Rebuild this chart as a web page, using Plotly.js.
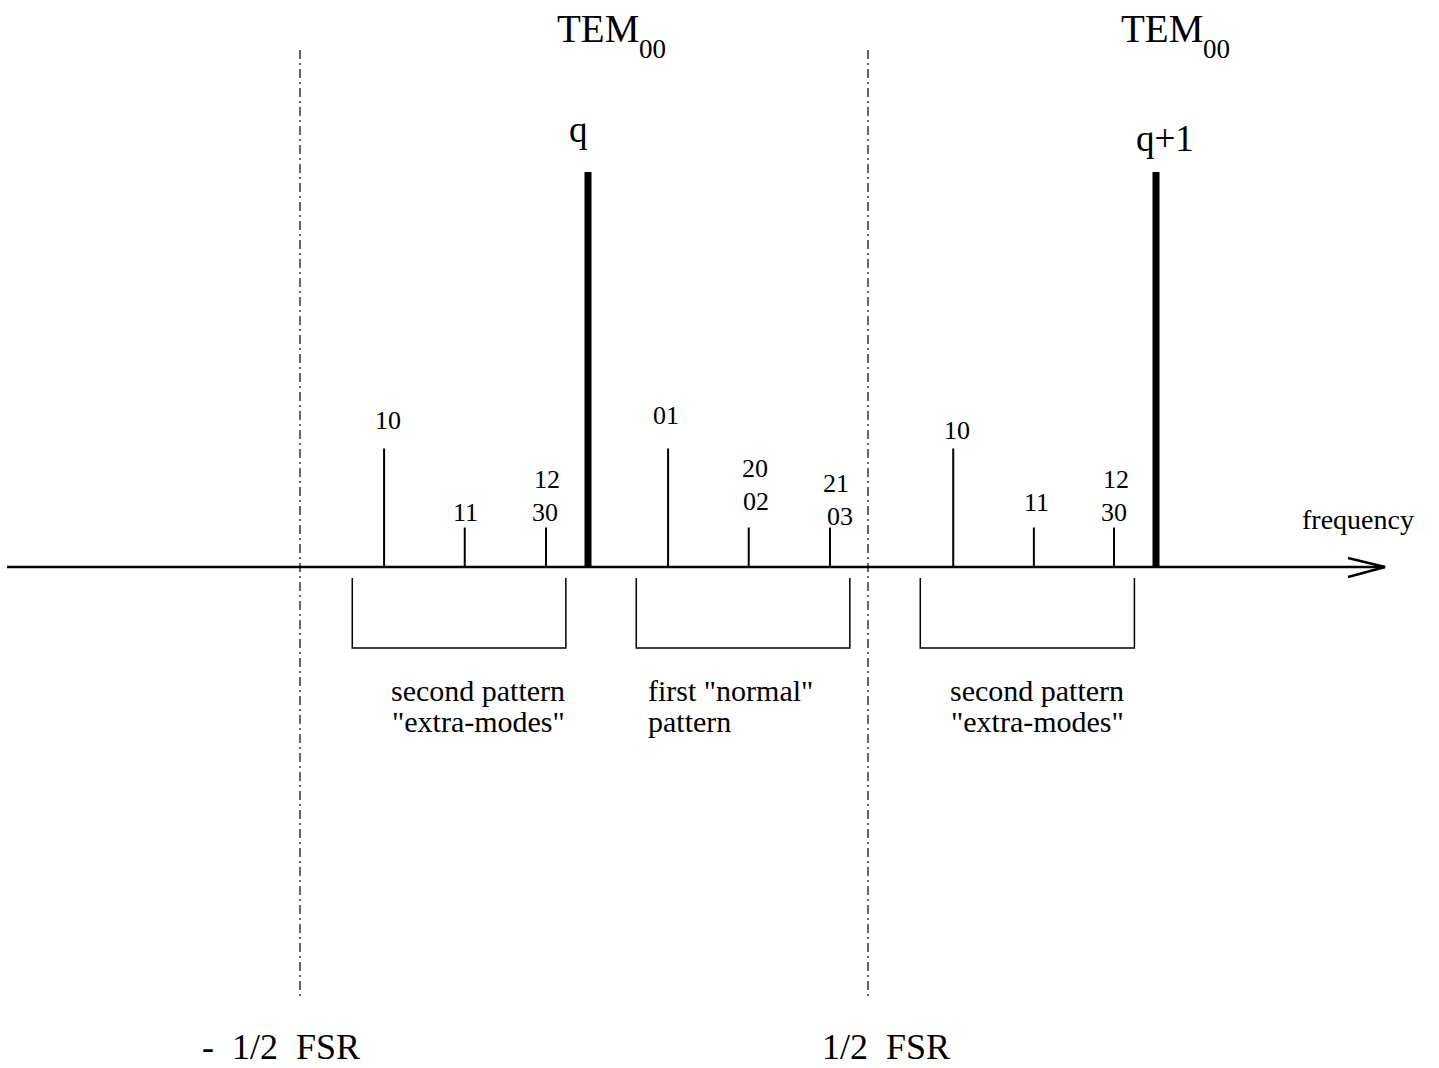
<!DOCTYPE html>
<html>
<head>
<meta charset="utf-8">
<script src="https://cdn.plot.ly/plotly-3.0.1.min.js"></script>
<style>html,body{margin:0;padding:0;background:#fff}#chart{width:1439px;height:1068px}</style>
</head>
<body>
<div id="chart"></div>
<script>
// ---- data (frequency in units of FSR relative to TEM00 q; amplitude relative to TEM00) ----
const modeLabels = ['10', '11', '12<br>30', 'q', '01', '20<br>02', '21<br>03', '10', '11', '12<br>30', 'q+1'];
const modeFreq   = [-0.359, -0.217, -0.074, 0.0, 0.141, 0.283, 0.426, 0.643, 0.785, 0.926, 1.0];
const modeAmp    = [0.30, 0.10, 0.10, 1.00, 0.30, 0.10, 0.10, 0.30, 0.10, 0.10, 1.00];
const boundaryFreq   = [-0.507, 0.493];
const boundaryLabels = ['-  1/2  FSR', '1/2  FSR'];
const patternStart  = [-0.415, 0.085, 0.585];
const patternEnd    = [-0.039, 0.461, 0.962];
const patternLabels = ['second pattern<br>"extra-modes"', 'first "normal"<br>pattern', 'second pattern<br>"extra-modes"'];
const axisLabel = 'frequency';
const fundamentalName = 'TEM';
const fundamentalIndex = '00';

// ---- layout helpers (pixel geometry of the figure) ----
const W = 1439, H = 1068;
const X0 = 588, XS = 568;   // pixel of freq 0, pixels per FSR
const Y0 = 567, YS = 395;   // pixel of baseline, pixels per unit amplitude
const fx = p => (p - X0) / XS;
const fy = p => (Y0 - p) / YS;
const FONT = 'Liberation Serif, Times New Roman, serif';

// stems
const thinX = [], thinY = [], thickX = [], thickY = [];
modeFreq.forEach((f, i) => {
  const tx = modeAmp[i] >= 1 ? thickX : thinX;
  const ty = modeAmp[i] >= 1 ? thickY : thinY;
  tx.push(f, f, null); ty.push(0, modeAmp[i], null);
});

const traces = [
  {x: thinX, y: thinY, mode: 'lines', line: {color: '#000', width: 2}, hoverinfo: 'skip', showlegend: false},
  {x: thickX, y: thickY, mode: 'lines', line: {color: '#000', width: 7}, hoverinfo: 'skip', showlegend: false}
];

// label offsets (pixels, style only): x shift per line, y of block centre above stem top
const labelDx = [[4], [1], [1, -1], [-10], [-2], [6, 7], [6, 10], [4], [3], [2, 0], [9]];
const labelDy = [28, 15, 32, 43, 33, 43, 28, 18, 25, 32, 34];
const LINE = 33;

const annotations = [];
const txt = (x, y, text, size, opts) => annotations.push(Object.assign({
  x: x, y: y, xref: 'x', yref: 'y', text: text, showarrow: false,
  xanchor: 'center', yanchor: 'middle', font: {family: FONT, size: size, color: '#000'}
}, opts || {}));

modeLabels.forEach((t, i) => {
  const big = modeAmp[i] >= 1;
  const lines = t.split('<br>');
  lines.forEach((ln, k) => {
    const off = (k - (lines.length - 1) / 2) * LINE;
    txt(modeFreq[i], modeAmp[i], ln, big ? 37 : 26,
      {xshift: labelDx[i][k], yshift: labelDy[i] - off});
  });
  if (big) {
    const f = modeFreq[i];
    const sx = f === 0 ? -33 : -37;
    txt(f, fy(28), fundamentalName, 39, {xanchor: 'left', xshift: sx});
    txt(f, fy(49), fundamentalIndex, 27, {xanchor: 'left', xshift: sx + 82});
  }
});

boundaryFreq.forEach((f, i) => {
  txt(f, fy(1047), boundaryLabels[i], 36, {xshift: i === 0 ? -19 : 18});
});

const patternAlign = ['center', 'left', 'center'];
patternLabels.forEach((t, i) => {
  const mid = (patternStart[i] + patternEnd[i]) / 2;
  const left = patternAlign[i] === 'left';
  t.split('<br>').forEach((line, k) => {
    txt(left ? patternStart[i] : mid, fy(690 + 31 * k), line, 30, {
      xanchor: left ? 'left' : 'center',
      xshift: left ? 10 : (i === 0 ? 19 : 10)
    });
  });
});

txt(fx(1358), fy(519), axisLabel, 28);

const shapes = [];
// frequency axis with open arrow head
shapes.push({type: 'line', xref: 'x', yref: 'y', x0: fx(7), x1: fx(1385), y0: 0, y1: 0, line: {color: '#000', width: 2.5}});
shapes.push({type: 'path', xref: 'x', yref: 'y',
  path: `M ${fx(1348)} ${fy(558)} L ${fx(1385)} ${fy(567)} L ${fx(1348)} ${fy(577)}`,
  line: {color: '#000', width: 2.5}});
// half-FSR boundaries
boundaryFreq.forEach(f => {
  shapes.push({type: 'line', xref: 'x', yref: 'y', x0: f, x1: f, y0: fy(50), y1: fy(1000),
    line: {color: '#000', width: 1.2, dash: '9px,4px,2px,4px'}});
});
// pattern brackets
patternStart.forEach((s, i) => {
  const e = patternEnd[i];
  shapes.push({type: 'path', xref: 'x', yref: 'y',
    path: `M ${s} ${fy(578)} L ${s} ${fy(648)} L ${e} ${fy(648)} L ${e} ${fy(578)}`,
    line: {color: '#000', width: 1.5}});
});

const layout = {
  width: W, height: H,
  margin: {l: 0, r: 0, t: 0, b: 0, pad: 0},
  paper_bgcolor: '#fff', plot_bgcolor: '#fff',
  xaxis: {range: [fx(0), fx(W)], visible: false, fixedrange: true},
  yaxis: {range: [fy(H), fy(0)], visible: false, fixedrange: true},
  showlegend: false,
  annotations: annotations,
  shapes: shapes
};

Plotly.newPlot('chart', traces, layout, {staticPlot: true, displayModeBar: false});
</script>
</body>
</html>
